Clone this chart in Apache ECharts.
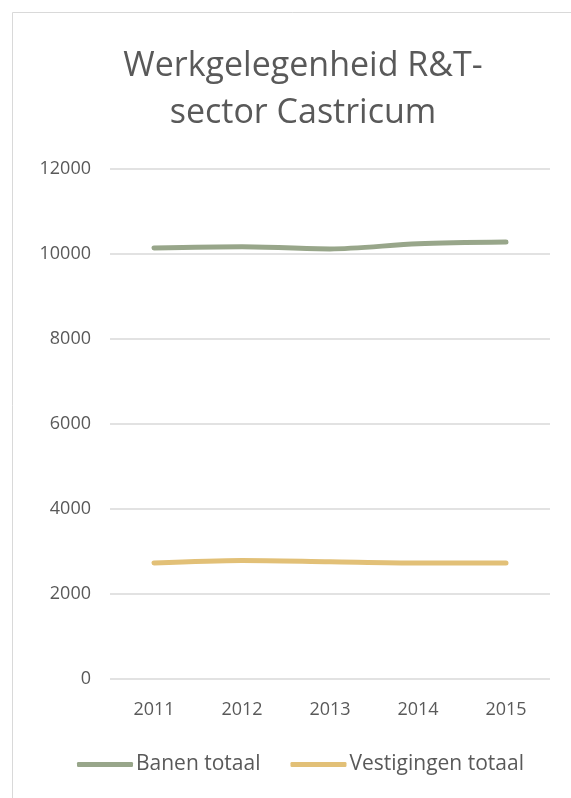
<!DOCTYPE html>
<html>
<head>
<meta charset="utf-8">
<script src="https://cdn.jsdelivr.net/npm/echarts@6/dist/echarts.min.js"></script>
<style>
html,body{margin:0;padding:0;background:#fff;}
#chart{width:571px;height:798px;}
</style>
</head>
<body>
<div id="chart"></div>
<script>
const categories = ['2011', '2012', '2013', '2014', '2015'];
const banenTotaal = [10140, 10170, 10120, 10240, 10280];
const vestigingenTotaal = [2730, 2790, 2760, 2730, 2730];
const yTicks = [0, 2000, 4000, 6000, 8000, 10000, 12000];

const chart = echarts.init(document.getElementById('chart'));
const font = '"Open Sans", sans-serif';
chart.setOption({
  backgroundColor: '#fff',
  animation: false,
  graphic: [{
    type: 'rect',
    shape: {x: 12.5, y: 12.5, width: 620, height: 820},
    style: {fill: 'none', stroke: '#d9d9d9', lineWidth: 1},
    silent: true
  }],
  title: {
    text: 'Werkgelegenheid R&T-\nsector Castricum',
    left: 298, top: 38, textAlign: 'center',
    textStyle: {fontFamily: font, fontSize: 34, fontWeight: 'normal', color: '#595959', lineHeight: 47}
  },
  legend: {
    bottom: 18, left: 72,
    itemWidth: 56, itemHeight: 5, itemGap: 30,
    icon: 'roundRect',
    textStyle: {fontFamily: font, fontSize: 21, color: '#595959', padding: [0,0,0,-2]},
    data: ['Banen totaal', 'Vestigingen totaal']
  },
  grid: {left: 110, right: 21, top: 169, bottom: 119},
  xAxis: {
    type: 'category', data: categories, boundaryGap: true,
    axisLine: {show: false}, axisTick: {show: false},
    axisLabel: {fontFamily: font, fontSize: 18, color: '#595959', margin: 22}
  },
  yAxis: {
    type: 'value', min: yTicks[0], max: yTicks[yTicks.length-1], interval: 2000,
    axisLine: {show: false}, axisTick: {show: false},
    axisLabel: {fontFamily: font, fontSize: 18, color: '#595959', margin: 19, formatter: v => String(v)},
    splitLine: {lineStyle: {color: '#d9d9d9', width: 1.5}}
  },
  series: [
    {name: 'Banen totaal', type: 'line', data: banenTotaal, smooth: 0.3, symbol: 'none',
     color: '#98A68A', lineStyle: {width: 5, color: '#98A68A', cap: 'round', join: 'round'}},
    {name: 'Vestigingen totaal', type: 'line', data: vestigingenTotaal, smooth: 0.3, symbol: 'none',
     color: '#E2C077', lineStyle: {width: 5, color: '#E2C077', cap: 'round', join: 'round'}}
  ]
});
</script>
</body>
</html>
